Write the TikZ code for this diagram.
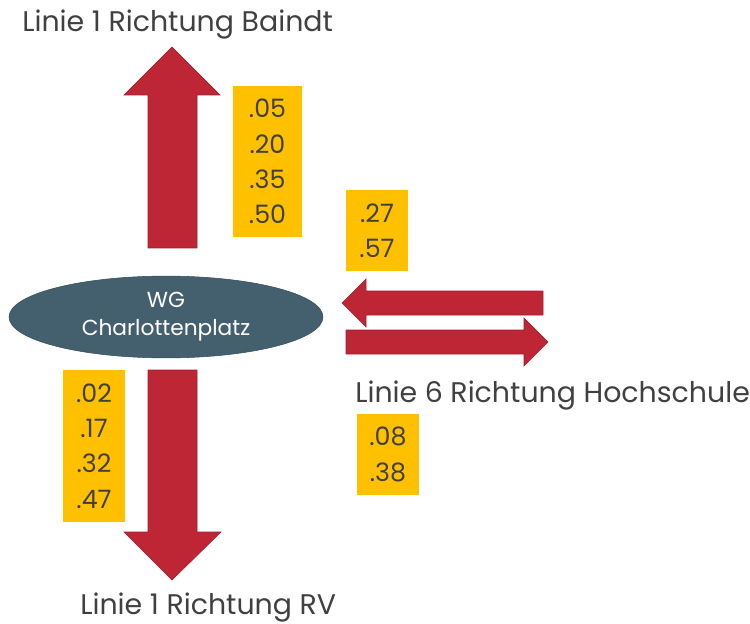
\documentclass[tikz,border=0pt]{standalone}
\usepackage{xcolor}
\usepackage{fontspec}
\setmainfont{Poppins}
\usetikzlibrary{shapes.geometric}

\definecolor{arrowred}{HTML}{BE2535}
\definecolor{boxyellow}{HTML}{FFC000}
\definecolor{stopblue}{HTML}{44606F}
\definecolor{textgray}{HTML}{404040}

\begin{document}
\begin{tikzpicture}[x=0.75pt,y=-0.75pt,
    blockarrow/.style={fill=arrowred, draw=arrowred!85!black, line width=0.4pt},
    timebox/.style={fill=boxyellow, text=textgray, align=center, inner sep=0pt,
      font=\fontsize{19}{26.5}\selectfont},
    linelabel/.style={text=textgray, anchor=base west, inner sep=0pt,
      font=\fontsize{21.3}{24}\selectfont}]
          \useasboundingbox (0,0) rectangle (750,624);

          % stop in the middle
          \node[ellipse, fill=stopblue, draw=stopblue!80!black, text=white,
            minimum width=314*0.75pt, minimum height=68*0.75pt, align=center,
            font=\fontsize{16.3}{21}\selectfont] (WG) at (166,317) {WG\\Charlottenplatz};

          % line 1 up and down
          \draw[blockarrow] (148,248) -- (148,95) -- (124,95) -- (172,47)
            -- (220,95) -- (197,95) -- (197,248) -- cycle;
          \draw[blockarrow] (148,370) -- (197,370) -- (197,532) -- (221,532)
            -- (172,580) -- (124,532) -- (148,532) -- cycle;

          % line 6 both ways
          \draw[blockarrow] (543,291) -- (366,291) -- (366,279) -- (342,303)
            -- (366,327) -- (366,315) -- (543,315) -- cycle;
          \draw[blockarrow] (346,330) -- (524,330) -- (524,318) -- (548,342)
            -- (524,366) -- (524,354) -- (346,354) -- cycle;

          \node[linelabel] (baindt) at (22,32) {Linie 1 Richtung Baindt};
          \node[linelabel] (rv) at (80,614) {Linie 1 Richtung RV};
          \node[linelabel] (hochschule) at (355,402) {Linie 6 Richtung Hochschule};

          % departure times
          \node[timebox, minimum width=69*0.75pt, minimum height=151*0.75pt] (tbaindt)
            at (267.5,161.5) {.05\\.20\\.35\\.50};
          \node[timebox, minimum width=62*0.75pt, minimum height=81*0.75pt] (thochin)
            at (377,230.5) {.27\\.57};
          \node[timebox, minimum width=62*0.75pt, minimum height=152*0.75pt] (trv)
            at (94,446) {.02\\.17\\.32\\.47};
          \node[timebox, minimum width=62*0.75pt, minimum height=81*0.75pt] (thochout)
            at (388,454.5) {.08\\.38};

          \end{tikzpicture}
\end{document}
